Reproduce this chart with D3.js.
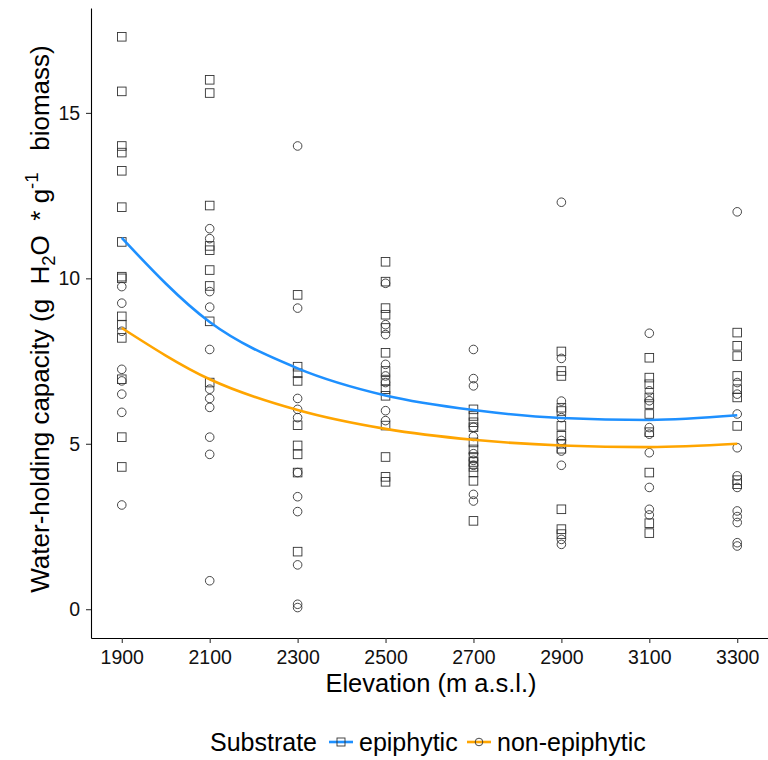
<!DOCTYPE html>
<html>
<head>
<meta charset="utf-8">
<script src="https://cdnjs.cloudflare.com/ajax/libs/d3/7.8.5/d3.min.js"></script>
<style>
  body { margin: 0; background: #fff; }
  text { font-family: "Liberation Sans", Arial, sans-serif; }
</style>
</head>
<body>
<div id="chart"></div>
<script>
// elevations (m a.s.l.)
var elevations = [1900, 2100, 2300, 2500, 2700, 2900, 3100, 3300];

// water-holding capacity, epiphytic samples (squares), one list per elevation
var epiphytic = [
    [17.3, 15.65, 14.0, 13.8, 13.25, 12.15, 11.1, 10.05, 10.0, 8.85, 8.6, 8.2, 6.95, 5.2, 4.3],
    [16.0, 15.6, 12.2, 10.98, 10.85, 10.25, 9.77, 8.7, 6.85],
    [9.5, 7.33, 7.13, 6.9, 5.56, 4.95, 4.68, 4.13, 1.74],
    [10.5, 9.9, 9.1, 8.9, 8.5, 7.75, 7.2, 6.9, 6.65, 6.45, 5.55, 4.6, 4.0, 3.85],
    [6.04, 5.84, 5.65, 5.5, 5.04, 4.83, 4.6, 4.45, 4.3, 4.13, 3.88, 2.67],
    [7.79, 7.2, 7.05, 6.09, 5.99, 5.54, 5.24, 5.0, 4.85, 3.02, 2.42, 2.27],
    [7.6, 7.0, 6.8, 6.4, 6.2, 5.9, 5.35, 4.13, 2.6, 2.3],
    [8.36, 7.96, 7.65, 7.05, 6.65, 6.4, 5.54, 3.9, 3.78]
];

// non-epiphytic samples (circles)
var nonEpiphytic = [
    [9.75, 9.25, 8.4, 7.25, 6.9, 6.5, 5.95, 3.15],
    [11.5, 11.2, 9.6, 9.13, 7.85, 6.65, 6.37, 6.1, 5.2, 4.68, 0.86],
    [14.0, 9.1, 6.37, 6.04, 5.79, 4.13, 3.4, 2.95, 1.34, 0.15, 0.05],
    [9.85, 8.6, 8.3, 7.4, 7.05, 6.85, 6.0, 5.7],
    [7.85, 6.97, 6.75, 5.5, 5.22, 4.7, 4.5, 4.35, 3.47, 3.27],
    [12.3, 7.58, 6.29, 5.79, 5.1, 4.78, 4.35, 2.11, 1.96],
    [8.34, 6.6, 6.3, 5.49, 5.29, 4.73, 3.68, 3.02, 2.85],
    [12.01, 6.85, 6.5, 5.9, 4.88, 4.03, 3.68, 2.97, 2.8, 2.62, 2.01, 1.91]
];

// smoothed trend per substrate
var smoothEpi = [11.22, 8.68, 7.28, 6.46, 6.02, 5.78, 5.72, 5.86];
var smoothNon = [8.5, 6.95, 6.02, 5.45, 5.12, 4.95, 4.9, 5.0];

var yTicks = [0, 5, 10, 15];

var width = 768, height = 760;
var margin = { left: 91, right: 768, top: 8, bottom: 638 };

var svg = d3.select('#chart').append('svg')
    .attr('width', width)
    .attr('height', height);

var x = d3.scaleLinear().domain([1830, 3370]).range([margin.left, margin.right]);
var y = d3.scaleLinear().domain([-0.87, 18.17]).range([margin.bottom, margin.top]);

// axes
var xAxis = svg.append('g')
    .attr('transform', 'translate(0,' + margin.bottom + ')')
    .call(d3.axisBottom(x).tickValues(elevations).tickFormat(d3.format('d')).tickSize(5).tickSizeOuter(0));
var yAxis = svg.append('g')
    .attr('transform', 'translate(' + margin.left + ',0)')
    .call(d3.axisLeft(y).tickValues(yTicks).tickSize(5).tickSizeOuter(0));

[xAxis, yAxis].forEach(function(a) {
    a.select('.domain').attr('stroke', '#000').attr('stroke-width', 1.1);
    a.selectAll('.tick line').attr('stroke', '#333').attr('stroke-width', 1.1);
    a.selectAll('.tick text').attr('fill', '#111').style('font-size', '19.5px');
});
xAxis.selectAll('.tick text').attr('dy', '0.9em');
yAxis.selectAll('.tick text').attr('dx', '-0.15em');

// points
var pts = svg.append('g');
elevations.forEach(function(e, i) {
    pts.selectAll(null)
        .data(nonEpiphytic[i])
        .enter().append('circle')
        .attr('cx', x(e))
        .attr('cy', function(d) { return y(d); })
        .attr('r', 4.3)
        .attr('fill', 'none')
        .attr('stroke', '#333')
        .attr('stroke-width', 0.9);
    pts.selectAll(null)
        .data(epiphytic[i])
        .enter().append('rect')
        .attr('x', x(e) - 4.3)
        .attr('y', function(d) { return y(d) - 4.3; })
        .attr('width', 8.6)
        .attr('height', 8.6)
        .attr('fill', 'none')
        .attr('stroke', '#333')
        .attr('stroke-width', 0.9);
});

// smooth lines
var line = d3.line()
    .x(function(d, i) { return x(elevations[i]); })
    .y(function(d) { return y(d); })
    .curve(d3.curveMonotoneX);

svg.append('path').datum(smoothNon)
    .attr('d', line)
    .attr('fill', 'none')
    .attr('stroke', '#FFA500')
    .attr('stroke-width', 2.6);
svg.append('path').datum(smoothEpi)
    .attr('d', line)
    .attr('fill', 'none')
    .attr('stroke', '#1E90FF')
    .attr('stroke-width', 2.6);

// axis titles
svg.append('text')
    .attr('x', 431)
    .attr('y', 692)
    .attr('text-anchor', 'middle')
    .style('font-size', '25.5px')
    .text('Elevation (m a.s.l.)');

var yt = svg.append('text')
    .attr('transform', 'translate(49,319) rotate(-90)')
    .attr('text-anchor', 'middle')
    .style('font-size', '26px')
    .style('white-space', 'pre');
yt.append('tspan').text('Water-holding capacity (g  H');
yt.append('tspan').attr('dy', 6).style('font-size', '18.5px').text('2');
yt.append('tspan').attr('dy', -6).text('O  * g');
yt.append('tspan').attr('dy', -11).style('font-size', '18.5px').text('-1');
yt.append('tspan').attr('dy', 11).text('   biomass)');

// legend
var lg = svg.append('g').attr('transform', 'translate(0,742)');
lg.append('text').attr('x', 210).attr('y', 9).style('font-size', '25px').text('Substrate');

lg.append('line').attr('x1', 329).attr('x2', 353).attr('y1', 0).attr('y2', 0)
    .attr('stroke', '#1E90FF').attr('stroke-width', 2.6);
lg.append('rect').attr('x', 337).attr('y', -4).attr('width', 8).attr('height', 8)
    .attr('fill', 'none').attr('stroke', '#333').attr('stroke-width', 0.9);
lg.append('text').attr('x', 359).attr('y', 9).style('font-size', '25px').text('epiphytic');

lg.append('line').attr('x1', 467).attr('x2', 491).attr('y1', 0).attr('y2', 0)
    .attr('stroke', '#FFA500').attr('stroke-width', 2.6);
lg.append('circle').attr('cx', 479).attr('cy', 0).attr('r', 3.8)
    .attr('fill', 'none').attr('stroke', '#333').attr('stroke-width', 0.9);
lg.append('text').attr('x', 497).attr('y', 9).style('font-size', '25px').text('non-epiphytic');
</script>
</body>
</html>
